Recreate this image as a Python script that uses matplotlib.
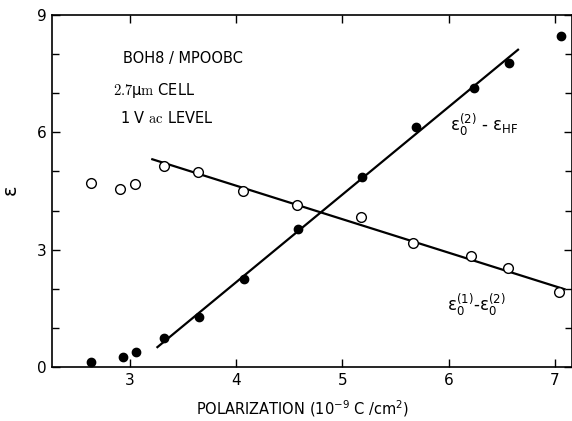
import matplotlib
matplotlib.use("Agg")
import matplotlib.pyplot as plt
import numpy as np

# measured points: eps0(2) - eps_HF (filled) and eps0(1) - eps0(2) (open)
pol_filled = [2.63, 2.93, 3.06, 3.32, 3.65, 4.07, 4.58, 5.18, 5.69, 6.24, 6.57, 7.06]
eps_filled = [0.13, 0.26, 0.38, 0.75, 1.28, 2.25, 3.53, 4.86, 6.14, 7.14, 7.78, 8.47]

pol_open = [2.63, 2.91, 3.05, 3.32, 3.64, 4.06, 4.57, 5.17, 5.66, 6.21, 6.56, 7.04]
eps_open = [4.71, 4.55, 4.68, 5.14, 4.98, 4.50, 4.14, 3.84, 3.17, 2.84, 2.53, 1.92]

# straight-line fits (end points)
fit2_x = [3.25, 6.66]
fit2_y = [0.49, 8.13]
fit1_x = [3.20, 7.10]
fit1_y = [5.32, 1.98]

xticks = [3, 4, 5, 6, 7]
yticks = [0, 3, 6, 9]

plt.rcParams['font.family'] = ['DejaVu Sans']
plt.rcParams['mathtext.default'] = 'regular'
plt.rcParams['mathtext.fontset'] = 'dejavusans'

fig = plt.figure(figsize=(5.72, 4.21), dpi=100)
ax = fig.add_axes([52/572, 1 - 367/421, 1 - 52/572, (367 - 15)/421])

ax.plot(fit2_x, fit2_y, color='black', lw=1.6, solid_capstyle='butt')
ax.plot(fit1_x, fit1_y, color='black', lw=1.6, solid_capstyle='butt')
ax.plot(pol_filled, eps_filled, 'o', color='black', ms=6, zorder=3)
ax.plot(pol_open, eps_open, 'o', mfc='white', mec='black', mew=1.0, ms=7, zorder=3)

ax.set_xlim(2.266, 7.16)
ax.set_ylim(0, 9)
ax.set_xticks(xticks)
ax.set_yticks(yticks)
ax.set_yticks(np.arange(0, 10), minor=True)
ax.tick_params(which='both', direction='in', top=True, right=True, labelsize=11,
               length=6, width=1.0, pad=4)
ax.tick_params(which='minor', length=5)
for s in ax.spines.values():
    s.set_linewidth(1.2)

ax.set_xlabel('POLARIZATION (10$^{-9}$ C /cm$^{2}$)', fontsize=10.5)
ax.xaxis.set_label_coords(0.483, -0.09)
ax.set_ylabel(r'$\epsilon$', fontsize=14)
ax.yaxis.set_label_coords(-0.06, 0.5)

ax.text(2.93, 7.9, 'BOH8 / MPOOBC', fontsize=10.5, va='center')
ax.text(2.84, 7.08, r'$\mathrm{2.7}\mu\mathrm{m}$ CELL', fontsize=10.5, va='center',
        math_fontfamily='cm')
ax.text(2.91, 6.37, r'1 V $\mathrm{ac}$ LEVEL', fontsize=10.5, va='center',
        math_fontfamily='cm')

ax.text(6.01, 6.2, r'$\epsilon_0^{(2)}$ - $\epsilon_{HF}$', fontsize=12, va='center')
ax.text(5.98, 1.6, r'$\epsilon_0^{(1)}$-$\epsilon_0^{(2)}$', fontsize=12, va='center')

fig.savefig('out.png', dpi=100)
